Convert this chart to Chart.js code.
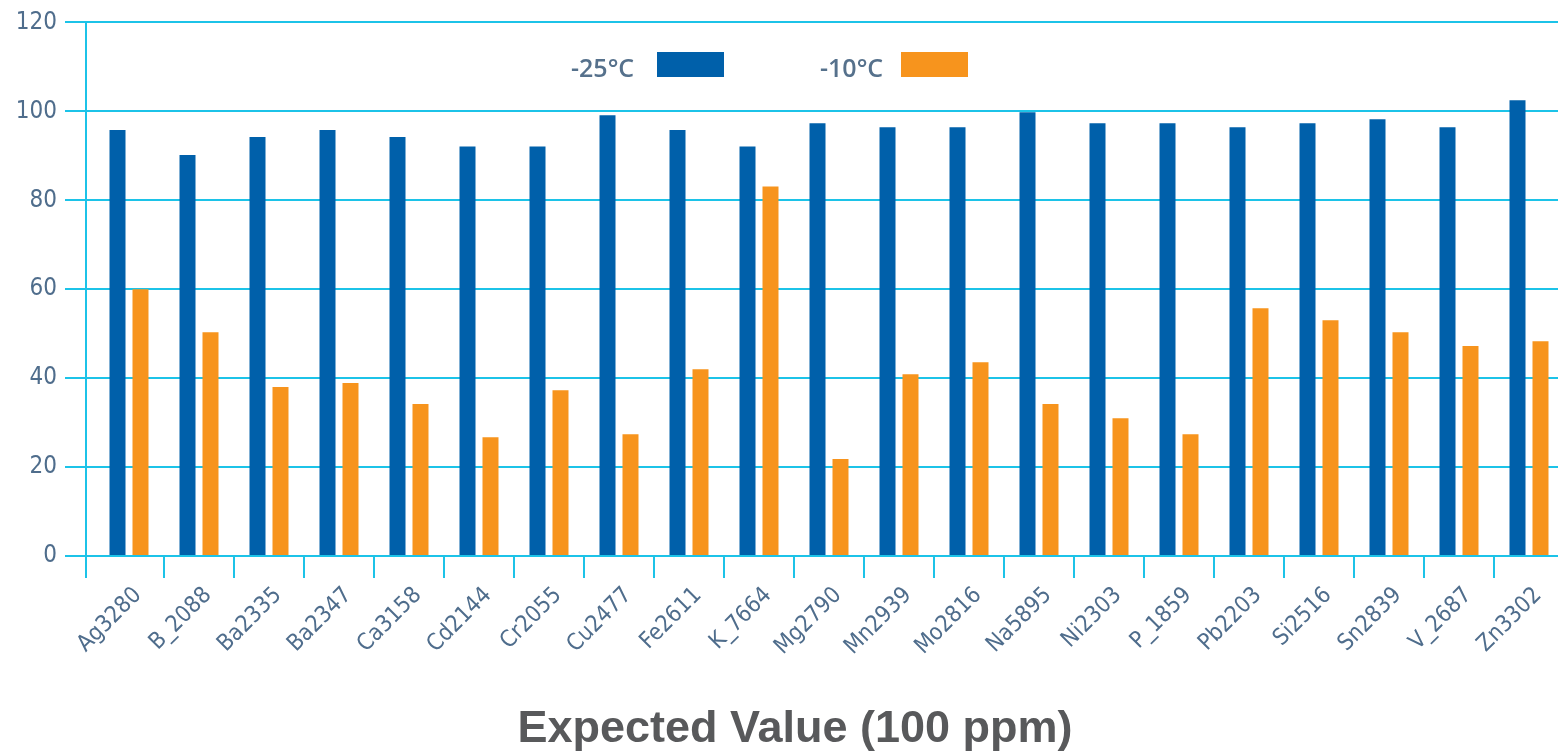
<!DOCTYPE html>
<html>
<head>
<meta charset="utf-8">
<script src="https://cdn.jsdelivr.net/npm/chart.js@4/dist/chart.umd.min.js"></script>
<style>
  html, body { margin: 0; padding: 0; background: #ffffff; overflow: hidden; }
  #wrap { position: relative; width: 1558px; height: 756px; overflow: hidden; }
  #c { position: absolute; left: 0; top: 0; }
  .lg-text { position: absolute; font-family: "Open Sans", sans-serif; font-weight: 600; font-size: 25px; color: #56718c; line-height: 25px; }
  .lg-box { position: absolute; width: 67px; height: 25px; }
  #xtitle { position: absolute; left: 0; width: 1590px; top: 702px; text-align: center; font-family: "Liberation Sans", Arial, sans-serif; font-weight: bold; font-size: 45px; color: #58595b; line-height: 50px; }
</style>
</head>
<body>
<div id="wrap">
  <canvas id="c" width="1566" height="756"></canvas>
  <div class="lg-text" style="left:571px; top:55px;">-25°C</div>
  <div class="lg-box" style="left:657px; top:52px; background:#0060aa;"></div>
  <div class="lg-text" style="left:820px; top:55px;">-10°C</div>
  <div class="lg-box" style="left:901px; top:52px; background:#f7941d;"></div>
  <div id="xtitle">Expected Value (100 ppm)</div>
</div>
<script>
const categories = ["Ag3280","B_2088","Ba2335","Ba2347","Ca3158","Cd2144","Cr2055","Cu2477","Fe2611","K_7664","Mg2790","Mn2939","Mo2816","Na5895","Ni2303","P_1859","Pb2203","Si2516","Sn2839","V_2687","Zn3302"];
const seriesNames = ["-25°C", "-10°C"];
const minus25 = [95.8, 90.2, 94.2, 95.8, 94.2, 92.1, 92.1, 99.1, 95.8, 92.1, 97.3, 96.4, 96.4, 99.8, 97.3, 97.3, 96.4, 97.3, 98.2, 96.4, 102.5];
const minus10 = [60.0, 50.3, 38.0, 38.9, 34.2, 26.7, 37.3, 27.4, 42.0, 83.1, 21.8, 40.9, 43.6, 34.2, 31.0, 27.4, 55.7, 53.0, 50.3, 47.2, 48.3];
const yTicks = [0, 20, 40, 60, 80, 100, 120];

const gridColor = "#1cc3e8";
const tickColor = "#4f6d8c";

const yAxisLine = {
  id: "yAxisLine",
  afterDraw(chart) {
    const ctx = chart.ctx;
    const top = chart.chartArea.top;
    const bottom = chart.chartArea.bottom + 22;
    ctx.save();
    ctx.strokeStyle = gridColor;
    ctx.lineWidth = 2;
    ctx.beginPath();
    ctx.moveTo(86, top);
    ctx.lineTo(86, bottom);
    ctx.stroke();
    ctx.restore();
  }
};

new Chart(document.getElementById("c"), {
  type: "bar",
  data: {
    labels: categories,
    datasets: [
      { label: seriesNames[0], data: minus25, backgroundColor: "#0060aa", categoryPercentage: 0.657, barPercentage: 0.696 },
      { label: seriesNames[1], data: minus10, backgroundColor: "#f7941d", categoryPercentage: 0.657, barPercentage: 0.696 }
    ]
  },
  plugins: [yAxisLine],
  options: {
    responsive: false,
    animation: false,
    layout: { padding: { top: 22, right: 2, left: 0, bottom: 0 } },
    plugins: { legend: { display: false }, tooltip: { enabled: false }, title: { display: false } },
    scales: {
      x: {
        offset: true,
        grid: {
          display: true, offset: true, drawOnChartArea: false, drawTicks: true, tickLength: 22,
          color: (ctx) => (ctx.index === 0 ? "rgba(0,0,0,0)" : gridColor), lineWidth: 2
        },
        border: { display: true, color: gridColor, width: 2 },
        ticks: {
          color: tickColor,
          font: { family: "'Liberation Sans Narrow', 'DejaVu Sans Condensed', sans-serif", size: 23 },
          minRotation: 45, maxRotation: 45, padding: 4, autoSkip: false, labelOffset: 9
        },
        afterFit: (s) => { s.height = 200; }
      },
      y: {
        min: 0, max: 120,
        afterBuildTicks: (s) => { s.ticks = yTicks.map(v => ({ value: v })); },
        grid: { color: gridColor, lineWidth: 2, tickLength: 29, drawTicks: true },
        border: { display: false },
        ticks: {
          color: tickColor,
          font: { family: "'Liberation Sans Narrow', 'DejaVu Sans Condensed', sans-serif", size: 24 },
          padding: 8
        },
        afterFit: (s) => { s.width = 94; }
      }
    }
  }
});
</script>
</body>
</html>
